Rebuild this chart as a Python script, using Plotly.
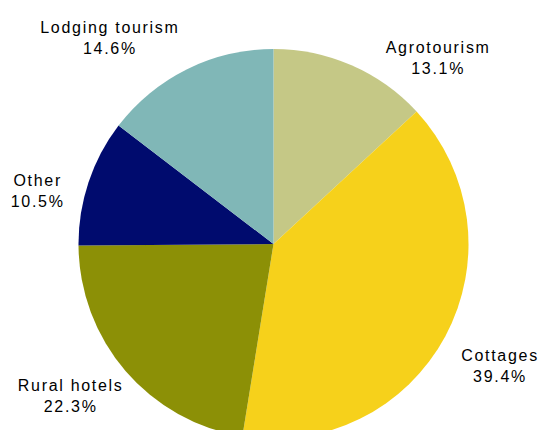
import plotly.graph_objects as go

categories = ["Agrotourism", "Cottages", "Rural hotels", "Other", "Lodging tourism"]
shares = [13.1, 39.4, 22.3, 10.5, 14.6]
colors = ["#C5C886", "#F6D11B", "#8C9006", "#000B6E", "#80B7B7"]

# label block centres in page pixels (layout only)
label_px = [(438, 58), (500, 366), (70, 396), (37, 191), (110, 38)]

W, H = 542, 460
cx, cy, r = 273.5, 244, 195

fig = go.Figure(go.Pie(
    labels=categories,
    values=shares,
    sort=False,
    direction="clockwise",
    rotation=0,
    marker=dict(colors=colors, line=dict(color="white", width=0)),
    textinfo="none",
    hoverinfo="label+percent",
    showlegend=False,
    domain=dict(x=[(cx - r) / W, (cx + r) / W], y=[1 - (cy + r) / H, 1 - (cy - r) / H]),
))

for name, val, (px, py) in zip(categories, shares, label_px):
    fig.add_annotation(
        text=f"{name}<br>{val:.1f}%",
        x=px / W, y=1 - py / H, xref="paper", yref="paper",
        xanchor="center", yanchor="middle", showarrow=False, align="center",
        font=dict(family="Liberation Sans, Arial, sans-serif", size=16, color="#000000"),
    )

fig.update_layout(
    width=W, height=H,
    margin=dict(l=0, r=0, t=0, b=0),
    paper_bgcolor="white", plot_bgcolor="white",
)

post = """
document.documentElement.style.overflow='hidden';
document.body.style.overflow='hidden';
document.body.style.margin='0';
document.querySelectorAll('.annotation-text').forEach(function(t){t.style.letterSpacing='1.7px';});
"""
fig.write_html("out.html", post_script=post, config={"displayModeBar": False})
